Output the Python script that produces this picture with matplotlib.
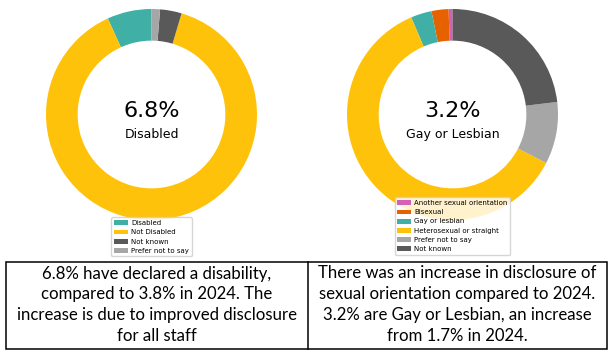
import matplotlib.pyplot as plt
from matplotlib.patches import Rectangle
from matplotlib.lines import Line2D

W, H = 612, 356

# disability donut
dis_labels = ['Disabled', 'Not Disabled', 'Not known', 'Prefer not to say']
dis_values = [6.8, 88.6, 3.3, 1.3]
dis_colors = ['#40B0A6', '#FFC20A', '#595959', '#A6A6A6']

# sexual orientation donut
so_labels = ['Another sexual orientation', 'Bisexual', 'Gay or lesbian',
             'Heterosexual or straight', 'Prefer not to say', 'Not known']
so_values = [0.6, 2.6, 3.2, 61.0, 9.5, 23.1]
so_colors = ['#D35FB7', '#E66100', '#40B0A6', '#FFC20A', '#A6A6A6', '#595959']

left_text = ['6.8% have declared a disability,',
             'compared to 3.8% in 2024. The',
             'increase is due to improved disclosure',
             'for all staff']
right_text = ['There was an increase in disclosure of',
              'sexual orientation compared to 2024.',
              '3.2% are Gay or Lesbian, an increase',
              'from 1.7% in 2024.']

fig = plt.figure(figsize=(W / 100, H / 100), dpi=100)


def donut(cx, cy, r, values, colors, labels, big, small, legend_top):
    ax = fig.add_axes([(cx - r) / W, 1 - (cy + r) / H, 2 * r / W, 2 * r / H])
    wedges, _ = ax.pie(values, colors=colors, labels=None, startangle=90,
                       radius=1, wedgeprops=dict(width=0.3))
    ax.set_xlim(-1, 1)
    ax.set_ylim(-1, 1)
    ax.axis('off')
    ax.text(0, 0.03, big, ha='center', va='center', fontsize=16)
    ax.text(0, -0.19, small, ha='center', va='center', fontsize=9)
    ax.legend(wedges, labels, loc='upper center', fontsize=5,
              bbox_to_anchor=(cx / W, 1 - legend_top / H),
              bbox_transform=fig.transFigure, handlelength=2.0,
              borderpad=0.4, labelspacing=0.45, handletextpad=0.4)
    return ax


donut(151.5, 114.5, 105.5, dis_values, dis_colors, dis_labels,
      '6.8%', 'Disabled', 214)
donut(452.5, 114.5, 105.5, so_values, so_colors, so_labels,
      '3.2%', 'Gay or Lesbian', 194)

# table underneath
x0, x1, xm = 5.7, 607.3, 307.7
y0, y1 = 262, 349
fig.patches.append(Rectangle((x0 / W, 1 - y1 / H), (x1 - x0) / W, (y1 - y0) / H,
                             transform=fig.transFigure, fill=False,
                             edgecolor='black', linewidth=1.1))
fig.lines.append(Line2D([xm / W, xm / W], [1 - y0 / H, 1 - y1 / H],
                        transform=fig.transFigure, color='black', linewidth=1.1))

baselines = [278.5, 299.3, 320.0, 340.8]
for i in range(4):
    fig.text(((x0 + xm) / 2) / W, 1 - baselines[i] / H, left_text[i],
             ha='center', va='baseline', fontsize=12.1, family='Lato')
    fig.text(((xm + x1) / 2) / W, 1 - baselines[i] / H, right_text[i],
             ha='center', va='baseline', fontsize=12.1, family='Lato')

fig.savefig('out.png', dpi=100)
